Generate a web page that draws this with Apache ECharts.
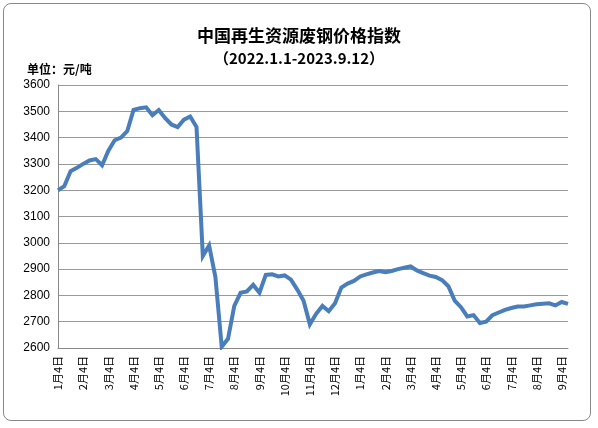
<!DOCTYPE html><html><head><meta charset="utf-8"><script src="https://cdn.jsdelivr.net/npm/echarts@6/dist/echarts.min.js"></script>
<style>body{margin:0}#c{width:598px;height:428px}#f{position:absolute;left:3px;top:3px;width:586px;height:416px;border:1px solid #888;border-radius:8px}</style></head><body><div id="f"></div><div id="c" style="position:absolute;left:0;top:0"></div><script>
const months=['1月','2月','3月','4月','5月','6月','7月','8月','9月','10月','11月','12月','1月','2月','3月','4月','5月','6月','7月','8月','9月'];
const categories=[];months.forEach(m=>{categories.push(m+'4日','','','')});categories.length=81;categories.push('9月12日');
const values=[3200,3215,3272,3285,3300,3313,3318,3295,3350,3390,3400,3425,3505,3512,3515,3485,3505,3475,3450,3440,3468,3480,3440,2950,2990,2870,2605,2635,2760,2810,2815,2840,2810,2878,2880,2872,2876,2860,2822,2780,2690,2730,2760,2740,2770,2830,2845,2855,2872,2880,2887,2893,2888,2893,2900,2905,2910,2895,2885,2875,2870,2858,2835,2780,2755,2720,2725,2695,2700,2725,2735,2745,2752,2758,2758,2762,2766,2768,2770,2762,2775,2768];
const c=echarts.init(document.getElementById('c'));
c.setOption({animation:false,
title:[{text:'中国再生资源废钢价格指数',left:'center',top:22,textStyle:{fontSize:17,fontWeight:'bold',color:'#000',fontFamily:'Noto Sans CJK SC'}},
{text:'（2022.1.1-2023.9.12）',left:'center',top:46,textStyle:{fontSize:15,fontWeight:'bold',color:'#000',fontFamily:'Noto Sans CJK SC'}},
{text:'单位：元/吨',left:22,top:58,textStyle:{fontSize:12,fontWeight:'bold',color:'#000',fontFamily:'Noto Sans CJK SC'}}],
grid:{left:58,right:30,top:85,bottom:80},
xAxis:{type:'category',data:categories,boundaryGap:false,axisTick:{show:false},axisLine:{lineStyle:{color:'#888'}},
axisLabel:{interval:0,rotate:90,fontSize:11,color:'#000',fontFamily:'Noto Sans CJK SC',formatter:(v,i)=>i%4==0&&i<81?v:''}},
yAxis:{type:'value',min:2600,max:3600,interval:100,axisLine:{show:true,lineStyle:{color:'#888'}},axisTick:{show:false},splitLine:{lineStyle:{color:'#999'}},axisLabel:{fontSize:12,color:'#000',fontFamily:'Liberation Sans',formatter:v=>String(v)}},
series:[{type:'line',data:values,showSymbol:false,lineStyle:{color:'#4a7ebb',width:4,join:'miter'}}]});
</script></body></html>
